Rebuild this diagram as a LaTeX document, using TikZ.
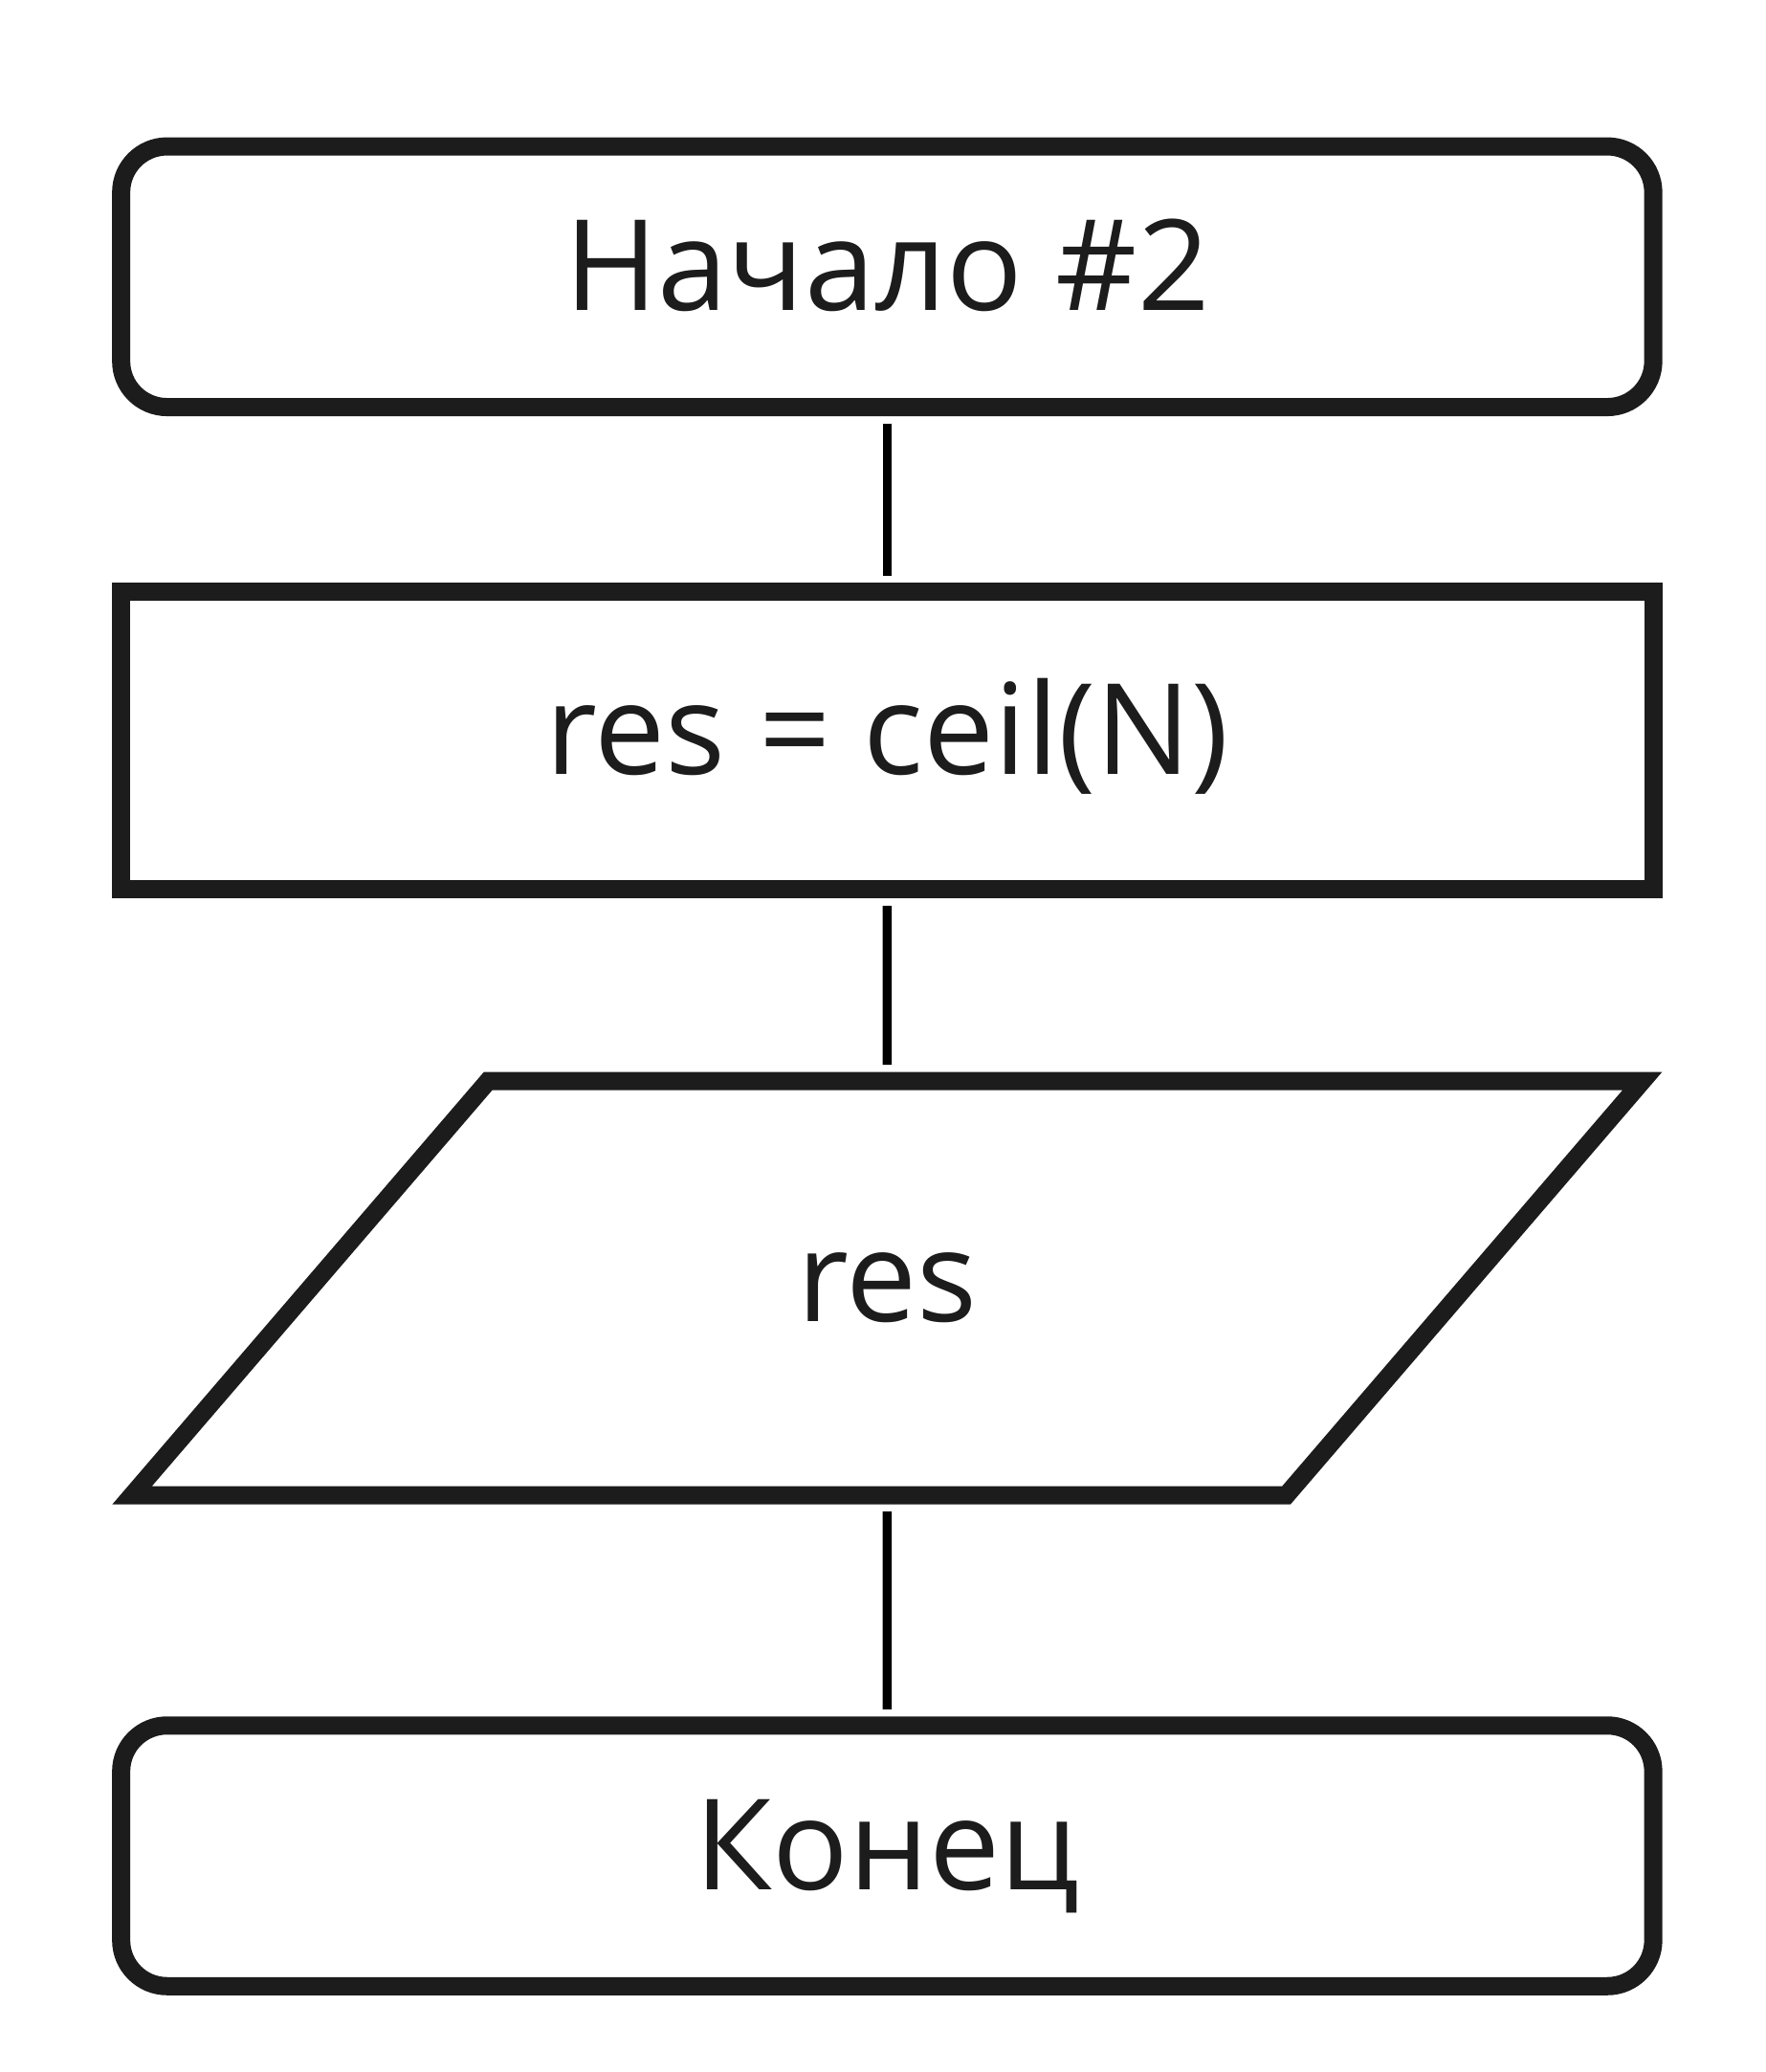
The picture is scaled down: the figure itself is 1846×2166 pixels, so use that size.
\documentclass[tikz,border=0pt]{standalone}
\usepackage{fontspec}
\setmainfont{Open Sans}
\definecolor{ink}{RGB}{28,28,28}
\tikzset{
  termbox/.style={draw=ink, line width=19pt, rounded corners=48pt, fill=white,
    minimum width=1601.5pt, minimum height=272.5pt, outer sep=9.5pt, inner sep=0pt,
    text height=100pt, text depth=30pt, text=ink, font=\fontsize{132pt}{158pt}\selectfont},
  procbox/.style={draw=ink, line width=19pt, fill=white,
    minimum width=1601.5pt, minimum height=311pt, outer sep=9.5pt, inner sep=0pt,
    text height=100pt, text depth=30pt, text=ink, font=\fontsize{132pt}{158pt}\selectfont},
  iotext/.style={draw=none, minimum width=1206.6pt, minimum height=433pt, outer sep=9.5pt, inner sep=0pt,
    text height=100pt, text depth=30pt, text=ink, font=\fontsize{132pt}{158pt}\selectfont},
  ioshape/.style={draw=ink, line width=19pt, line join=miter, miter limit=10},
  conn/.style={draw=black, line width=9.3pt, shorten <=7.5pt, shorten >=7.5pt}
}
\begin{document}
\begin{tikzpicture}[x=1pt, y=-1pt]
\fill[white] (0,0) rectangle (1846,2166);
\useasboundingbox (0,0) rectangle (1846,2166);
\node[termbox] (start) at (927.4,289.3) {Начало \#2};
\node[procbox] (proc) at (927.4,774.3) {res = ceil(N)};
\node[iotext] (io) at (927.3,1346.7) {};
\draw[ioshape, shift={(io.center)}] (-789.3,216.5) -- (-417.2,-216.5) -- (789.3,-216.5) -- (417.2,216.5) -- cycle;
\node[iotext] at (io.center) {res};
\node[termbox] (end) at (927.4,1940) {Конец};
\draw[conn] (start) -- (proc);
\draw[conn] (proc) -- (io);
\draw[conn] (io) -- (end);
\end{tikzpicture}
\end{document}
